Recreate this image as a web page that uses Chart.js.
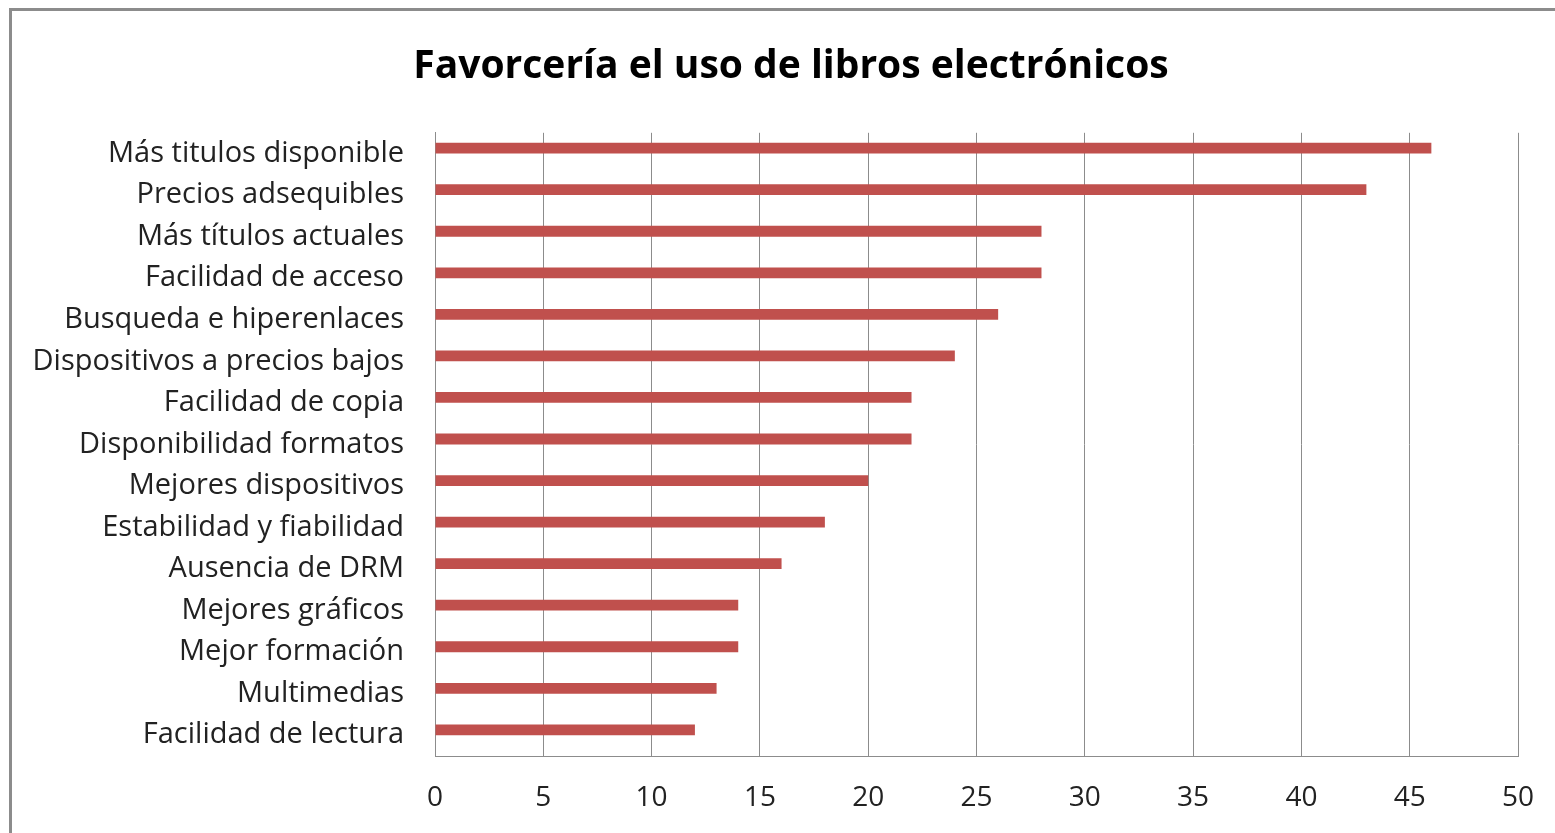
<!DOCTYPE html>
<html>
<head>
<meta charset="utf-8">
<script src="https://cdn.jsdelivr.net/npm/chart.js@4.4.0/dist/chart.umd.min.js"></script>
<style>
  html, body { margin: 0; padding: 0; background: #fff; overflow: hidden; }
  #wrap { position: relative; width: 1555px; height: 833px; }
  #marco { position: absolute; left: 9px; top: 8px; width: 1700px; height: 1000px; border: 3px solid #8c8c8c; box-sizing: border-box; }
  canvas { position: absolute; left: 0; top: 0; }
</style>
</head>
<body>
<div id="wrap">
  <div id="marco"></div>
  <canvas id="grafico" width="1555" height="833"></canvas>
</div>
<script>
// Datos del gráfico
const categorias = [
  "Más titulos disponible",
  "Precios adsequibles",
  "Más títulos actuales",
  "Facilidad de acceso",
  "Busqueda e hiperenlaces",
  "Dispositivos a precios bajos",
  "Facilidad de copia",
  "Disponibilidad formatos",
  "Mejores dispositivos",
  "Estabilidad y fiabilidad",
  "Ausencia de DRM",
  "Mejores gráficos",
  "Mejor formación",
  "Multimedias",
  "Facilidad de lectura",
];
const valores = [46, 43, 28, 28, 26, 24, 22, 22, 20, 18, 16, 14, 14, 13, 12];
const titulo = "Favorcería el uso de libros electrónicos";

const fuente = "'Open Sans', sans-serif";

const ctx = document.getElementById("grafico").getContext("2d");
new Chart(ctx, {
  type: "bar",
  data: {
    labels: categorias,
    datasets: [
      {
        label: "Favorecería",
        data: valores,
        backgroundColor: "#c0504d",
        borderWidth: 0,
        categoryPercentage: 0.52,
        barPercentage: 1,
      },
      // serie vacía (en el original hay un hueco para una segunda serie)
      {
        label: "",
        data: [],
        backgroundColor: "#4f81bd",
        categoryPercentage: 0.52,
        barPercentage: 1,
      },
    ],
  },
  options: {
    indexAxis: "y",
    responsive: false,
    animation: false,
    layout: { padding: { left: 30, right: 3, top: 0, bottom: 0 } },
    plugins: {
      legend: { display: false },
      tooltip: { enabled: false },
      title: {
        display: true,
        text: titulo,
        color: "#000",
        font: { family: fuente, size: 39, weight: "bold" },
        padding: { top: 43, bottom: 43 },
      },
    },
    scales: {
      x: {
        min: 0,
        max: 50,
        ticks: { stepSize: 5, color: "#222", padding: 25, font: { family: fuente, size: 28 } },
        grid: { color: "#8c8c8c", lineWidth: 1, drawTicks: false },
        border: { display: true, color: "#8c8c8c", width: 1 },
        afterFit: (scale) => {
          scale.height = 77;
          scale.paddingLeft = 0;
          scale.paddingRight = 0;
        },
      },
      y: {
        ticks: { color: "#222", padding: 31, font: { family: fuente, size: 29 } },
        grid: { display: false, drawTicks: false },
        border: { display: true, color: "#8c8c8c", width: 1 },
        afterFit: (scale) => { scale.width = 405; },
      },
      // margen derecho vacío, como en el original
      margen: {
        type: "category",
        axis: "y",
        position: "right",
        ticks: { display: false },
        grid: { display: false, drawTicks: false },
        border: { display: false },
        afterFit: (scale) => { scale.width = 34; },
      },
    },
  },
});
</script>
</body>
</html>
